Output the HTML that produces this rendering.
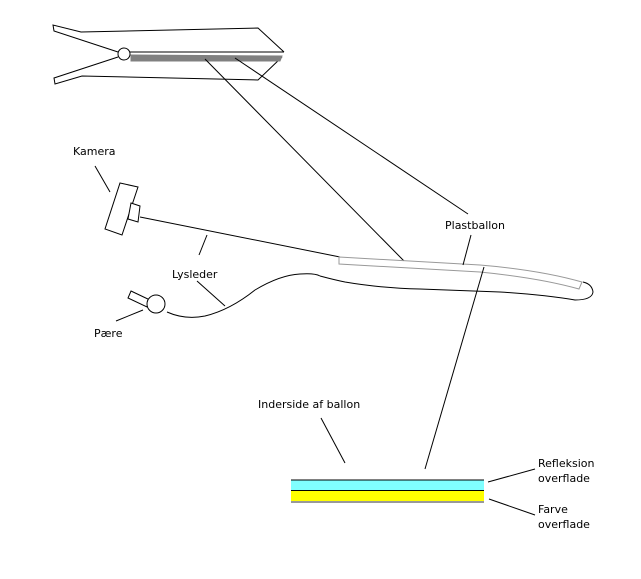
<!DOCTYPE html>
<html><head><style>
html,body{margin:0;padding:0;background:#fff;}
svg{display:block;}
text{font-family:"DejaVu Sans","Liberation Sans",sans-serif;font-size:11px;fill:#000;}
</style></head><body>
<svg width="641" height="579" viewBox="0 0 641 579" xmlns="http://www.w3.org/2000/svg">
<g fill="none" stroke="#000" stroke-width="1">
<!-- clip -->
<path d="M118,52 L54,31 L53,25 L81,32 L258,28 L284,52"/>
<path d="M118,57 L54,78 L55,84 L82,76 L258,80 L282,57"/>
<circle cx="124" cy="54" r="6" fill="#fff"/>
<line x1="130" y1="52" x2="284" y2="52"/>
<polygon points="131,55 282,56 280,61 131,61" fill="#808080" stroke="#808080"/>
<!-- lines from clip -->
<line x1="205" y1="59" x2="405" y2="262"/>
<line x1="235" y1="58" x2="468" y2="214"/>
<!-- camera -->
<polygon points="120,183 138,187 122,235 105,229" fill="#fff"/>
<polygon points="131,203 140,206 138,222 128,219" fill="#fff"/>
<line x1="95" y1="166" x2="110" y2="192"/>
<line x1="140" y1="217" x2="340" y2="257"/>
<line x1="207" y1="235" x2="199" y2="255"/>
<!-- balloon -->
<path d="M320,276 Q335,280 345,282 Q380,288 420,289 L500,292 Q545,295 575,300 Q592,300 593,292 Q592,284 583,282" />
<path d="M339,257 L480,265 Q540,270 582,282 L579,289 Q540,278 480,272 L339,264 Z" fill="#fff" stroke="#999"/>
<line x1="471" y1="235" x2="463" y2="265"/>
<line x1="484" y1="267" x2="425" y2="469"/>
<!-- lysleder -->
<path d="M167,312 Q185,320 205,316 Q230,310 255,290 Q280,275 300,274 Q315,273 320,276"/>
<line x1="197" y1="281" x2="225" y2="306"/>
<!-- bulb -->
<polygon points="131,291 150,300 147,307 128,298" fill="#fff"/>
<circle cx="156" cy="304" r="9" fill="#fff"/>
<line x1="116" y1="321" x2="143" y2="310"/>
<!-- layers -->
<line x1="321" y1="418" x2="345" y2="463"/>
<rect x="291" y="480" width="193" height="10" fill="#80ffff" stroke="none"/>
<rect x="291" y="491" width="193" height="10" fill="#ffff00" stroke="none"/>
<line x1="291" y1="480" x2="484" y2="480"/>
<line x1="291" y1="490.5" x2="484" y2="490.5"/>
<line x1="291" y1="502" x2="484" y2="502" stroke="#333"/>
<line x1="488" y1="482" x2="535" y2="469"/>
<line x1="489" y1="499" x2="535" y2="515"/>
</g>
<text x="73" y="155">Kamera</text>
<text x="445" y="229">Plastballon</text>
<text x="172" y="278">Lysleder</text>
<text x="94" y="337">Pære</text>
<text x="258" y="408">Inderside af ballon</text>
<text x="538" y="467">Refleksion</text>
<text x="538" y="482">overflade</text>
<text x="538" y="513">Farve</text>
<text x="538" y="528">overflade</text>
</svg>
</body></html>
